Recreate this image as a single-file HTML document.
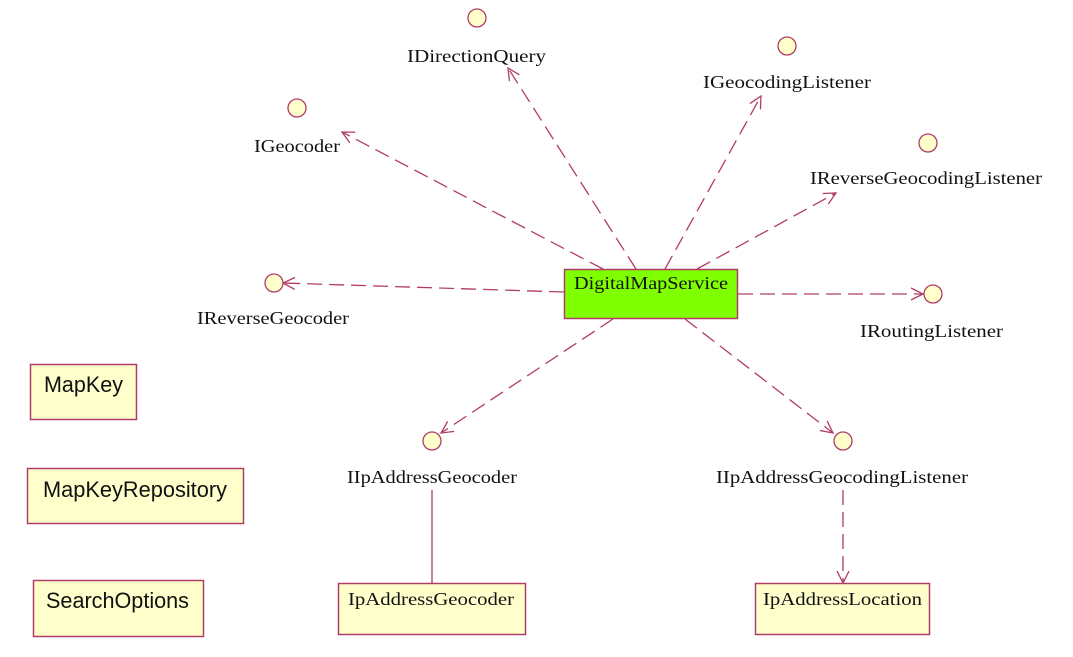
<!DOCTYPE html>
<html>
<head>
<meta charset="utf-8">
<style>
  html,body{margin:0;padding:0;background:#fff;}
  svg{display:block;}
  .lbl{font-family:"Liberation Serif",serif;font-size:18px;fill:#111;}
  .sans{font-family:"Liberation Sans",sans-serif;font-size:22px;fill:#111;}
  .dash{stroke:#b03c68;stroke-width:1.3;fill:none;stroke-dasharray:15 7;}
  .solid{stroke:#b03c68;stroke-width:1.3;fill:none;}
  .iface{fill:#ffffcc;stroke:#b03c68;stroke-width:1.3;}
  .box{fill:#ffffcc;stroke:#b03c68;stroke-width:1.5;}
</style>
</head>
<body>
<svg width="1073" height="657" viewBox="0 0 1073 657" xmlns="http://www.w3.org/2000/svg">
  <defs>
    <marker id="ah" markerUnits="userSpaceOnUse" markerWidth="14" markerHeight="14" refX="12" refY="7" orient="auto">
      <path d="M0,1 L12,7 L0,13" fill="none" stroke="#b03c68" stroke-width="1.3"/>
    </marker>
  </defs>

  <!-- connectors -->
  <line class="dash" x1="603" y1="269" x2="342" y2="132" marker-end="url(#ah)"/>
  <line class="dash" x1="636" y1="269" x2="508" y2="68" marker-end="url(#ah)"/>
  <line class="dash" x1="665" y1="269" x2="761" y2="96" marker-end="url(#ah)"/>
  <line class="dash" x1="697" y1="269" x2="836" y2="193" marker-end="url(#ah)"/>
  <line class="dash" x1="738" y1="294" x2="923" y2="294" marker-end="url(#ah)"/>
  <line class="dash" x1="564" y1="292" x2="283" y2="283" marker-end="url(#ah)"/>
  <line class="dash" x1="613" y1="319" x2="441" y2="433" marker-end="url(#ah)"/>
  <line class="dash" x1="685" y1="319" x2="833" y2="433" marker-end="url(#ah)"/>
  <line class="dash" x1="843" y1="490" x2="843" y2="583" marker-end="url(#ah)"/>
  <line class="solid" x1="432" y1="490" x2="432" y2="583"/>

  <!-- interface circles -->
  <circle class="iface" cx="477" cy="18" r="9"/>
  <circle class="iface" cx="787" cy="46" r="9"/>
  <circle class="iface" cx="297" cy="108" r="9"/>
  <circle class="iface" cx="928" cy="143" r="9"/>
  <circle class="iface" cx="933" cy="294" r="9"/>
  <circle class="iface" cx="274" cy="283" r="9"/>
  <circle class="iface" cx="432" cy="441" r="9"/>
  <circle class="iface" cx="843" cy="441" r="9"/>

  <!-- interface labels -->
  <text class="lbl" x="407" y="62" textLength="139" lengthAdjust="spacingAndGlyphs">IDirectionQuery</text>
  <text class="lbl" x="703" y="88" textLength="168" lengthAdjust="spacingAndGlyphs">IGeocodingListener</text>
  <text class="lbl" x="254" y="152" textLength="86" lengthAdjust="spacingAndGlyphs">IGeocoder</text>
  <text class="lbl" x="810" y="184" textLength="232" lengthAdjust="spacingAndGlyphs">IReverseGeocodingListener</text>
  <text class="lbl" x="860" y="337" textLength="143" lengthAdjust="spacingAndGlyphs">IRoutingListener</text>
  <text class="lbl" x="197" y="324" textLength="152" lengthAdjust="spacingAndGlyphs">IReverseGeocoder</text>
  <text class="lbl" x="347" y="483" textLength="170" lengthAdjust="spacingAndGlyphs">IIpAddressGeocoder</text>
  <text class="lbl" x="716" y="483" textLength="252" lengthAdjust="spacingAndGlyphs">IIpAddressGeocodingListener</text>

  <!-- central class -->
  <rect x="564.5" y="269.5" width="173" height="49" fill="#80ff00" stroke="#b03c68" stroke-width="1.5"/>
  <text class="lbl" x="574" y="289" textLength="154" lengthAdjust="spacingAndGlyphs">DigitalMapService</text>

  <!-- bottom classes -->
  <rect class="box" x="338.5" y="583.5" width="187" height="51"/>
  <text class="lbl" x="348" y="605" textLength="166" lengthAdjust="spacingAndGlyphs">IpAddressGeocoder</text>

  <rect class="box" x="755.5" y="583.5" width="174" height="51"/>
  <text class="lbl" x="763" y="605" textLength="159" lengthAdjust="spacingAndGlyphs">IpAddressLocation</text>

  <!-- left classes -->
  <rect class="box" x="30.5" y="364.5" width="106" height="55"/>
  <text class="sans" x="44" y="392" textLength="79" lengthAdjust="spacingAndGlyphs">MapKey</text>

  <rect class="box" x="27.5" y="468.5" width="216" height="55"/>
  <text class="sans" x="43" y="497" textLength="184" lengthAdjust="spacingAndGlyphs">MapKeyRepository</text>

  <rect class="box" x="33.5" y="580.5" width="170" height="56"/>
  <text class="sans" x="46" y="608" textLength="143" lengthAdjust="spacingAndGlyphs">SearchOptions</text>
</svg>
</body>
</html>
